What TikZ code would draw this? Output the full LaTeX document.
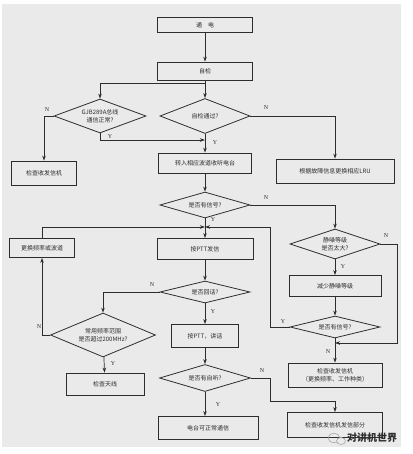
\documentclass[tikz,border=0pt]{standalone}
\usepackage{fontspec}
\setmainfont{Liberation Serif}
\newfontfamily\cjk{Noto Sans CJK SC}
\usetikzlibrary{shapes.geometric,arrows.meta}
\definecolor{paper}{RGB}{234,234,234}
\definecolor{ink}{RGB}{45,45,45}
\begin{document}
\begin{tikzpicture}[x=1pt,y=-1pt,
  line/.style={draw=ink,line width=0.7pt},
  arr/.style={line,-{Stealth[length=5pt,width=3.5pt]}},
  pbox/.style={draw=ink,line width=0.8pt,rectangle,inner sep=1pt,align=center,
    font=\cjk\fontsize{6}{7.5}\selectfont,text=ink},
  dbox/.style={draw=ink,line width=0.8pt,diamond,aspect=3,inner sep=0pt,align=center,
    font=\cjk\fontsize{6}{7.5}\selectfont,text=ink},
  lab/.style={font=\fontsize{6}{6}\selectfont,text=ink,inner sep=0pt}]
\useasboundingbox (0,0) rectangle (412,454);
\fill[paper] (2,4) rectangle (401,447);

% ---- nodes ----
\node[pbox,minimum width=95pt,minimum height=15pt] (pwr) at (205,25) {通\quad 电};
\node[pbox,minimum width=95pt,minimum height=18pt] (zj) at (205,71) {自检};
\node[dbox,minimum width=92pt,minimum height=34pt] (d1) at (100,116) {GJB289A总线\\通信正常?};
\node[dbox,minimum width=90pt,minimum height=35pt] (d2) at (205,116) {自检通过?};
\node[pbox,minimum width=65pt,minimum height=24pt] (bL1) at (44,173) {检查收发信机};
\node[pbox,minimum width=93pt,minimum height=20pt] (bM1) at (205,163) {转入相应波道收听电台};
\node[pbox,minimum width=118pt,minimum height=24pt] (bR1) at (335,171) {根据故障信息更换相应LRU};
\node[dbox,minimum width=90pt,minimum height=26pt] (d3) at (205,205) {是否有信号?};
\node[pbox,minimum width=65pt,minimum height=19pt] (bL2) at (42,248) {更换频率或波道};
\node[pbox,minimum width=96pt,minimum height=21pt] (bM2) at (205,249) {按PTT发信};
\node[dbox,minimum width=90pt,minimum height=30pt] (d4) at (335,244) {静噪等级\\是否太大?};
\node[pbox,minimum width=92pt,minimum height=21pt] (bR2) at (335,286) {减少静噪等级};
\node[dbox,minimum width=90pt,minimum height=22pt] (d5) at (335,327) {是否有信号?};
\node[dbox,minimum width=90pt,minimum height=22pt] (d6) at (205,292) {是否回话?};
\node[dbox,minimum width=105pt,minimum height=44pt] (d7) at (103,335) {常用频率范围\\是否超过200MHz?};
\node[pbox,minimum width=67pt,minimum height=23pt] (bM3) at (205,336) {按PTT，讲话};
\node[pbox,minimum width=78pt,minimum height=22pt] (bL3) at (105,384) {检查天线};
\node[dbox,minimum width=91pt,minimum height=27pt] (d8) at (205,378) {是否有自听?};
\node[pbox,minimum width=100pt,minimum height=23pt] (bM4) at (208,428) {电台可正常通信};
\node[pbox,minimum width=94pt,minimum height=24pt] (bR3) at (335,375) {检查收发信机\\（更换频率、工作种类）};
\node[pbox,minimum width=95pt,minimum height=25pt] (bR4) at (335,425) {检查收发信机发信部分};

% ---- junction points ----
\coordinate (j1) at (205,83);
\coordinate (j2) at (205,140);
\coordinate (j3) at (205,227);
\coordinate (cR1) at (270,327);
\coordinate (cR2) at (397,343);
\coordinate (cR3) at (335,343);
\coordinate (cM1) at (270,401);
\coordinate (cM2) at (335,401);

% ---- connectors ----
\draw[arr] (pwr) -- (zj);
\draw[arr] (zj) -- (d2);
\draw[arr] (j1) -| (d1.north);
\draw[arr] (d1.west) -| (bL1.north);
\draw[arr] (d1.south) |- (j2);
\draw[arr] (d2) -- (bM1);
\draw[arr] (d2.east) -| (bR1.north);
\draw[arr] (bM1) -- (d3);
\draw[arr] (d3.east) -| (d4.north);
\draw[arr] (d3) -- (bM2);
\draw[arr] (bL2.north) |- (j3);
\draw[arr] (d5.west) -- (cR1) |- (j3);
\draw[arr] (d4) -- (bR2);
\draw[arr] (d4.east) -| (cR2) -- (cR3);
\draw[arr] (bR2) -- (d5);
\draw[arr] (d5) -- (bR3);
\draw[arr] (bM2) -- (d6);
\draw[arr] (d6.west) -| (d7.north);
\draw[arr] (d7.west) -| (bL2.south);
\draw[arr] (d7) -- (bL3);
\draw[arr] (d6) -- (bM3);
\draw[arr] (bM3) -- (d8);
\draw[arr] (d8.east) -| (cM1) -- (cM2) -- (bR4.north);
\draw[arr] (d8.south) -- (d8.south |- bM4.north);

% ---- labels ----
\node[lab] (n1) at (47,110) {N};
\node[lab] (y1) at (110,137) {Y};
\node[lab] (n2) at (266,108) {N};
\node[lab] (y2) at (215,143) {Y};
\node[lab] (n3) at (266,198) {N};
\node[lab] (y3) at (213,220) {Y};
\node[lab] (n4) at (386,236) {N};
\node[lab] (y4) at (343,267) {Y};
\node[lab] (y5) at (283,322) {Y};
\node[lab] (n5) at (328,352) {N};
\node[lab] (n6) at (152,285) {N};
\node[lab] (n7) at (39,327) {N};
\node[lab] (y6) at (113,364) {Y};
\node[lab] (y7) at (213,312) {Y};
\node[lab] (n8) at (262,371) {N};
\node[lab] (y8) at (218,405) {Y};

% ---- watermark ----
\draw[gray!70,line width=0.6pt] (334,438) ellipse (6 and 4.5);
\draw[gray!70,line width=0.6pt,fill=paper] (341,441) ellipse (4.5 and 3.5);
\node[font=\cjk\bfseries\fontsize{10}{10}\selectfont,text=ink,inner sep=0pt] (wm) at (372,438) {对讲机世界};
\end{tikzpicture}
\end{document}
